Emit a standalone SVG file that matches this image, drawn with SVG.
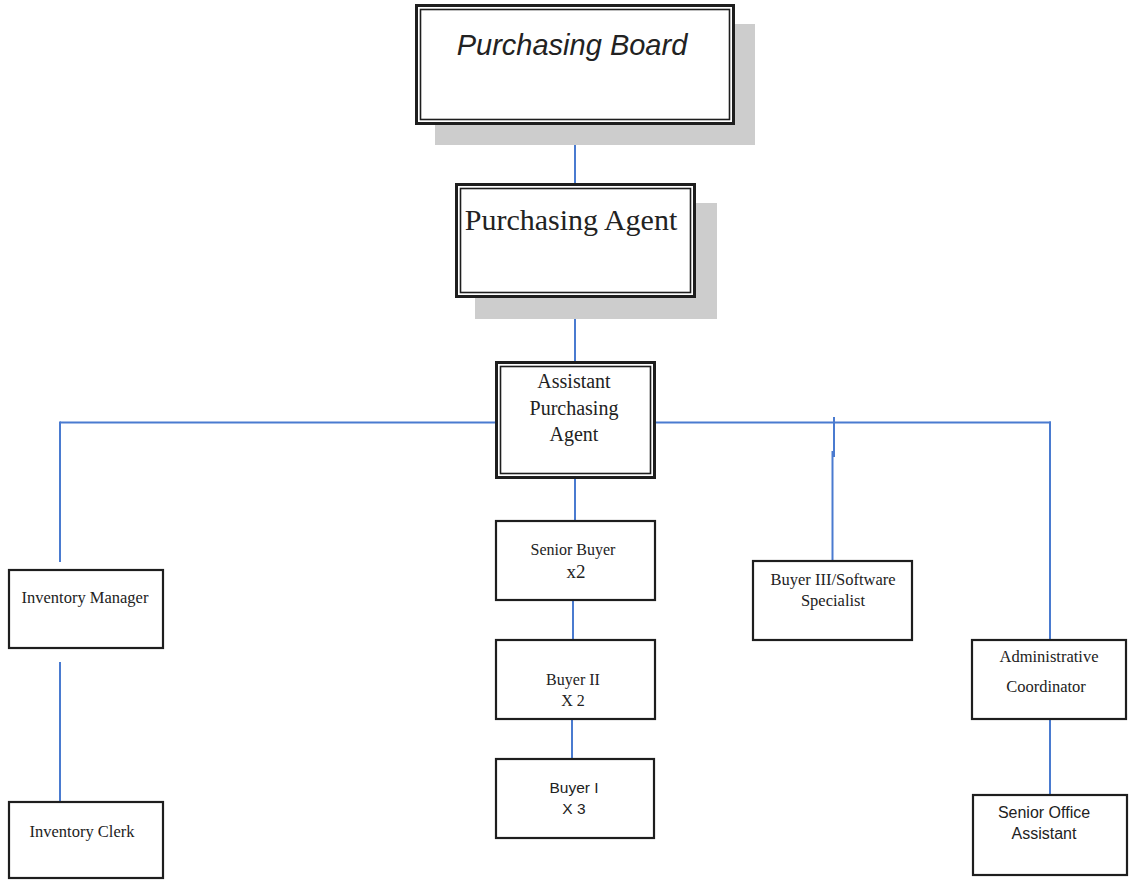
<svg xmlns="http://www.w3.org/2000/svg" width="1132" height="880" viewBox="0 0 1132 880">
  <style>
    .shadow { fill: #cdcdcd; }
    .outer { fill: #ffffff; stroke: #1e1e1e; stroke-width: 3; }
    .inner { fill: none; stroke: #1e1e1e; stroke-width: 1.6; }
    .box { fill: #ffffff; stroke: #1e1e1e; stroke-width: 2.2; }
    .serif { font-family: "Liberation Serif", "Times New Roman", serif; fill: #222; text-anchor: middle; }
    .sans { font-family: "Liberation Sans", Arial, sans-serif; fill: #222; text-anchor: middle; }
    .link { stroke: #4a7bd0; stroke-width: 2; fill: none; }
  </style>

  <!-- reporting lines -->
  <g id="connectors">
    <line class="link" x1="575" y1="125" x2="575" y2="183"/>
    <line class="link" x1="575" y1="298" x2="575" y2="361"/>
    <line class="link" x1="60" y1="422.5" x2="495" y2="422.5"/>
    <line class="link" x1="656" y1="422.5" x2="1051" y2="422.5"/>
    <line class="link" x1="60" y1="421.5" x2="60" y2="562"/>
    <line class="link" x1="834" y1="417" x2="834" y2="457"/>
    <line class="link" x1="832.5" y1="451" x2="832.5" y2="561"/>
    <line class="link" x1="1050" y1="421.5" x2="1050" y2="640"/>
    <line class="link" x1="575" y1="479" x2="575" y2="521"/>
    <line class="link" x1="573" y1="600" x2="573" y2="640"/>
    <line class="link" x1="572" y1="719" x2="572" y2="759"/>
    <line class="link" x1="60" y1="662" x2="60" y2="802"/>
    <line class="link" x1="1050" y1="719" x2="1050" y2="795"/>
  </g>

  <g id="purchasing-board">
    <rect class="shadow" x="435" y="24" width="320" height="121"/>
    <rect class="outer" x="416.5" y="5.5" width="317" height="118"/>
    <rect class="inner" x="420.5" y="9.5" width="309" height="110"/>
    <text class="sans" x="572" y="55" font-size="29" font-style="italic">Purchasing Board</text>
  </g>

  <g id="purchasing-agent">
    <rect class="shadow" x="475" y="203" width="242" height="116"/>
    <rect class="outer" x="456.5" y="184.5" width="238" height="112"/>
    <rect class="inner" x="460.5" y="188.5" width="230" height="104"/>
    <text class="serif" x="571" y="230" font-size="30">Purchasing Agent</text>
  </g>

  <g id="assistant-purchasing-agent">
    <rect class="outer" x="496.5" y="362.5" width="158" height="115"/>
    <rect class="inner" x="500.5" y="366.5" width="150" height="107"/>
    <text class="serif" x="574" y="388" font-size="20">Assistant</text>
    <text class="serif" x="574" y="415" font-size="20">Purchasing</text>
    <text class="serif" x="574" y="441" font-size="20">Agent</text>
  </g>

  <g id="senior-buyer">
    <rect class="box" x="496" y="521" width="159" height="79"/>
    <text class="serif" x="573" y="555" font-size="16">Senior Buyer</text>
    <text class="serif" x="576" y="578" font-size="19">x2</text>
  </g>

  <g id="buyer-ii">
    <rect class="box" x="496" y="640" width="159" height="79"/>
    <text class="serif" x="573" y="685" font-size="16">Buyer II</text>
    <text class="serif" x="573" y="706" font-size="16">X 2</text>
  </g>

  <g id="buyer-i">
    <rect class="box" x="496" y="759" width="158" height="79"/>
    <text class="sans" x="574" y="793" font-size="15.5">Buyer I</text>
    <text class="sans" x="574" y="814" font-size="15.5">X 3</text>
  </g>

  <g id="inventory-manager">
    <rect class="box" x="9" y="570" width="154" height="78"/>
    <text class="serif" x="85" y="603" font-size="16.5">Inventory Manager</text>
  </g>

  <g id="inventory-clerk">
    <rect class="box" x="9" y="802" width="154" height="76"/>
    <text class="serif" x="82" y="837" font-size="16.5">Inventory Clerk</text>
  </g>

  <g id="buyer-iii-software-specialist">
    <rect class="box" x="753" y="561" width="159" height="79"/>
    <text class="serif" x="833" y="585" font-size="16.5">Buyer III/Software</text>
    <text class="serif" x="833" y="606" font-size="16.5">Specialist</text>
  </g>

  <g id="administrative-coordinator">
    <rect class="box" x="972" y="640" width="154" height="79"/>
    <text class="serif" x="1049" y="662" font-size="16.5">Administrative</text>
    <text class="serif" x="1046" y="692" font-size="16.5">Coordinator</text>
  </g>

  <g id="senior-office-assistant">
    <rect class="box" x="973" y="795" width="154" height="80"/>
    <text class="sans" x="1044" y="818" font-size="16">Senior Office</text>
    <text class="sans" x="1044" y="839" font-size="16">Assistant</text>
  </g>
</svg>
